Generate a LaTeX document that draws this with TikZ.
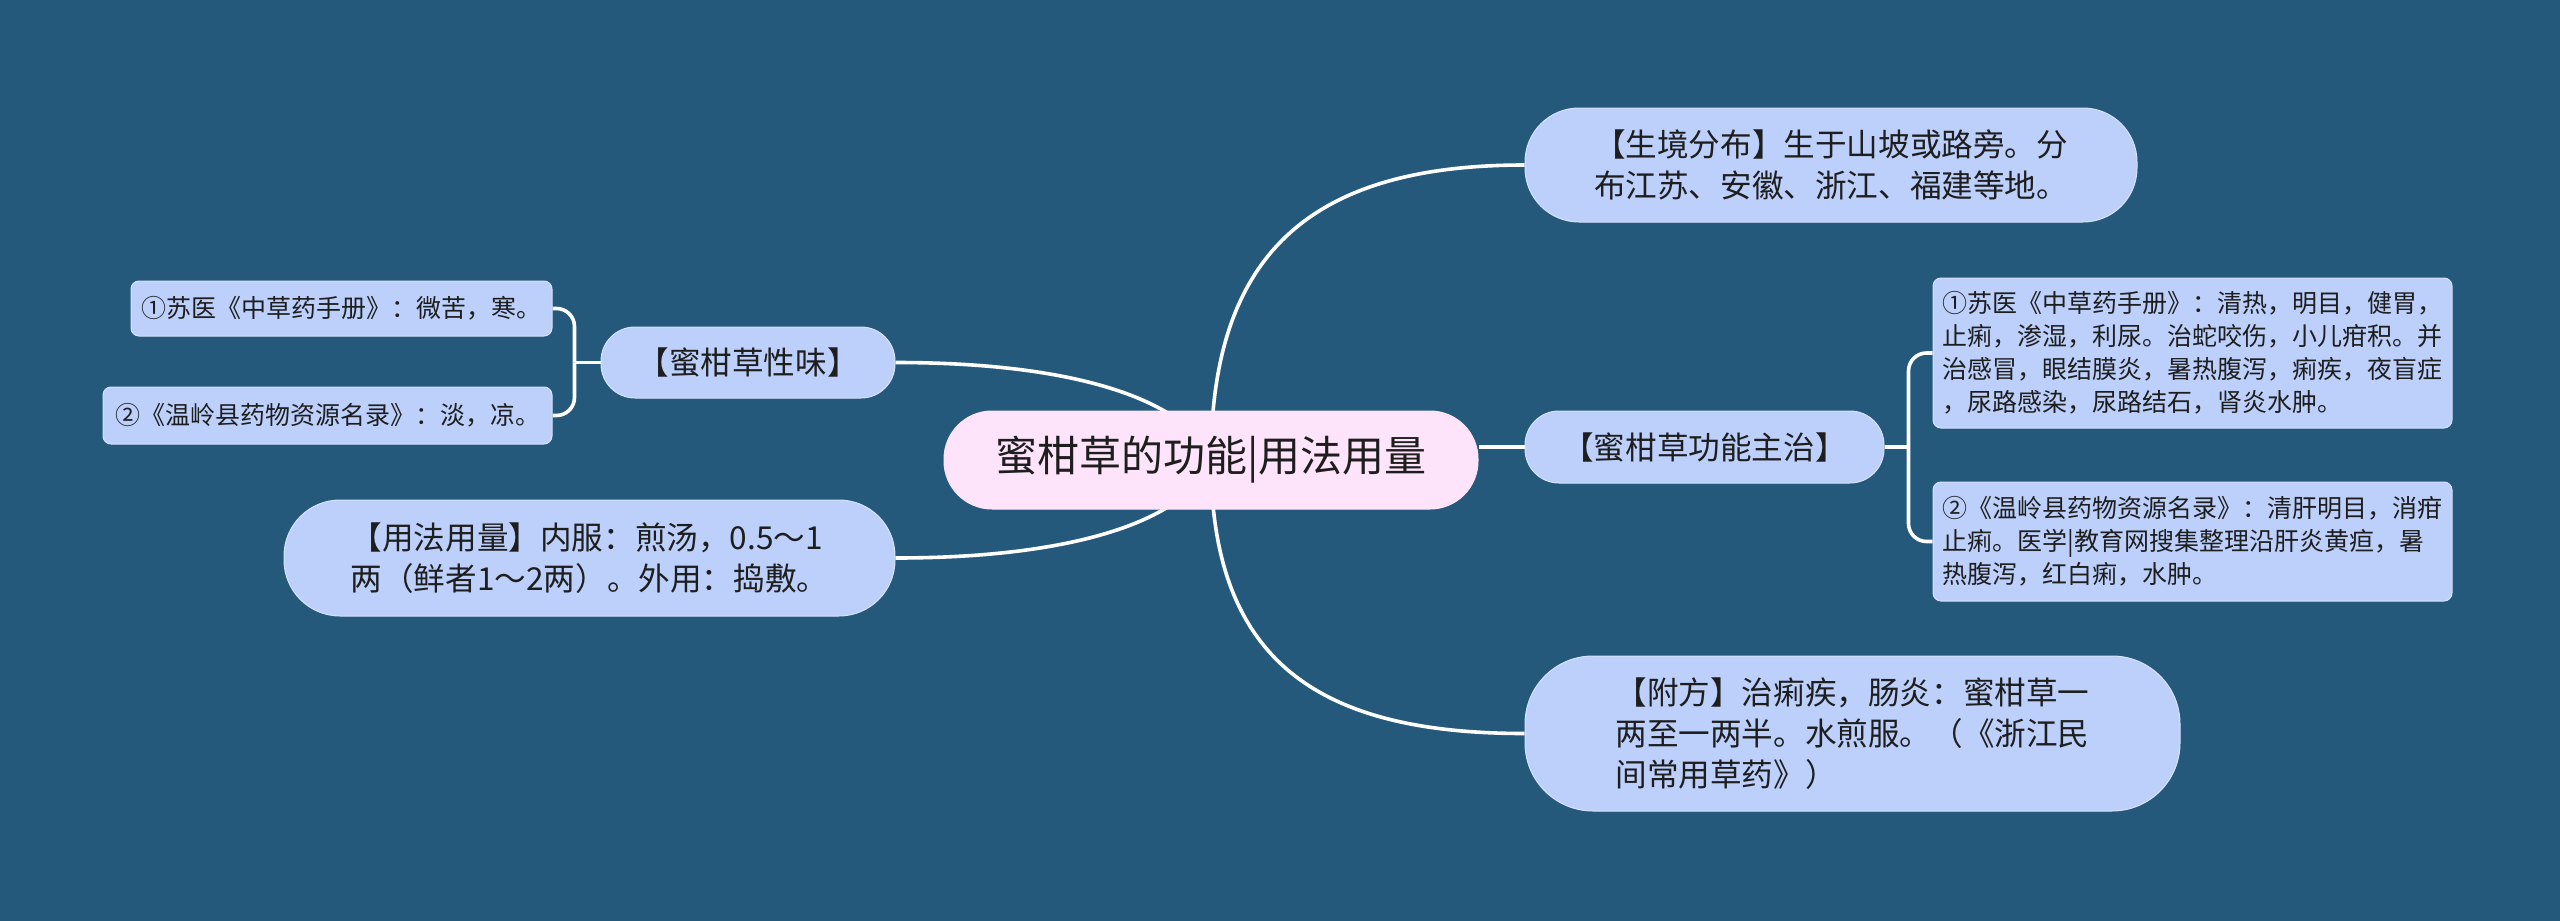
\documentclass[tikz,border=0pt]{standalone}
\usepackage{fontspec}
\setmainfont{Noto Sans CJK SC}
\usepackage{tikz,xcolor}
\usetikzlibrary{positioning, backgrounds}
\definecolor{bgcolor}{RGB}{36,89,123}
\definecolor{nodecolor}{RGB}{188,208,251}
\definecolor{rootcolor}{RGB}{253,228,251}
\definecolor{textcolor}{RGB}{30,30,30}

\begin{document}
\begin{tikzpicture}[x=0.5pt, y=0.5pt,
		base/.style = {fill=nodecolor, draw=white!40!nodecolor, line width=0.5pt, text=textcolor, inner sep=0pt, align=left} , 
		root/.style = {base, fill=rootcolor, draw=rootcolor, font=\fontsize{21}{26}\selectfont},
		topic/.style = {base, font=\fontsize{15.8}{20.5}\selectfont},
		leaf/.style = {base, rounded corners=4pt, font=\fontsize{12.5}{16.5}\selectfont},
		conn/.style = {draw=white, line width=1.8pt}
		]
		\useasboundingbox (0,0) rectangle (2560,-921);
		\node (root) [root, minimum width=267pt, minimum height=49pt, rounded corners=24pt] at (1211,-460) {蜜柑草的功能|用法用量};
		\node (gen) [topic, minimum width=306pt, minimum height=57pt, rounded corners=27pt] at (1831,-165) {【生境分布】生于山坡或路旁。分\\布江苏、安徽、浙江、福建等地。};
		\node (func) [topic, minimum width=179.5pt, minimum height=36pt, rounded corners=17pt] at (1704.5,-447) {【蜜柑草功能主治】};
		\node (g1) [leaf, minimum width=259.5pt, minimum height=75pt] at (2192.5,-353) {①苏医《中草药手册》：清热，明目，健胃，\\止痢，渗湿，利尿。治蛇咬伤，小儿疳积。并\\治感冒，眼结膜炎，暑热腹泻，痢疾，夜盲症\\，尿路感染，尿路结石，肾炎水肿。};
		\node (g2) [leaf, minimum width=259.5pt, minimum height=59.5pt] at (2192.5,-541.5) {②《温岭县药物资源名录》：清肝明目，消疳\\止痢。医学|教育网搜集整理沿肝炎黄疸，暑\\热腹泻，红白痢，水肿。};
		\node (fang) [topic, minimum width=327.5pt, minimum height=77.5pt, rounded corners=34pt] at (1852.5,-733.5) {【附方】治痢疾，肠炎：蜜柑草一\\两至一两半。水煎服。（《浙江民\\间常用草药》）};
		\node (xw) [topic, minimum width=147pt, minimum height=35.5pt, rounded corners=17pt] at (748,-362.5) {【蜜柑草性味】};
		\node (s1) [leaf, minimum width=210.5pt, minimum height=27.5pt] at (341.5,-308.5) {①苏医《中草药手册》：微苦，寒。};
		\node (s2) [leaf, minimum width=224.5pt, minimum height=28.5pt] at (327.5,-415.5) {②《温岭县药物资源名录》：淡，凉。};
		\node (yf) [topic, minimum width=305.5pt, minimum height=58pt, rounded corners=28pt] at (589.5,-558) {【用法用量】内服：煎汤，0.5～1\\两（鲜者1～2两）。外用：捣敷。};
		\coordinate (fj) at ([xshift=12pt]func.east);
		\coordinate (xj) at ([xshift=-13pt]xw.west);
		
		\begin{scope}[on background layer]
		\fill[bgcolor] (0,0) rectangle (2560,-921);
		\draw[conn] (root.center) to[out=90, in=180, looseness=1.25] (gen.west);
		\draw[conn] (root.center) to[out=-90, in=180, looseness=1.25] (fang.west);
		\draw[conn] (root.east |- func.west) -- (func.west);
		\draw[conn] (root.center) to[out=110, in=0, out looseness=0.45, in looseness=1.5] (xw.east);
		\draw[conn] (root.center) to[out=-110, in=0, out looseness=0.45, in looseness=1.5] (yf.east);
		\draw[conn] (func.east) -- (fj);
		\draw[conn, rounded corners=9pt] (fj) |- (g1.west);
		\draw[conn, rounded corners=9pt] (fj) |- (g2.west);
		\draw[conn] (xw.west) -- (xj);
		\draw[conn, rounded corners=9pt] (xj) |- (s1.east);
		\draw[conn, rounded corners=9pt] (xj) |- (s2.east);
		\end{scope}
	\end{tikzpicture}
\end{document}
